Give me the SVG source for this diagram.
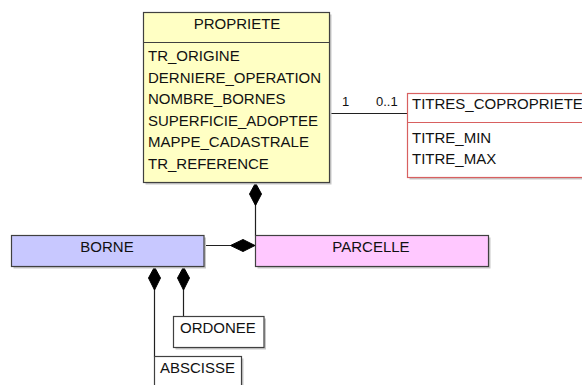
<svg xmlns="http://www.w3.org/2000/svg" width="582" height="385" viewBox="0 0 582 385">
<style>
.sh{fill:#c8c8c8;stroke:none}
.box{stroke:#404040;stroke-width:1.2}
.t{font-family:"Liberation Sans",Arial,sans-serif;font-size:15px;fill:#111}
.c{text-anchor:middle}
.m{font-family:"Liberation Sans",Arial,sans-serif;font-size:13px;fill:#111}
.ln{stroke:#202020;stroke-width:1.2;fill:none}
.dia{fill:#000;stroke:#000;stroke-width:1}
</style>
<rect width="582" height="385" fill="#fff"/>
<g id="connectors">
<line class="ln" x1="330" y1="113.5" x2="407.5" y2="113.5"/>
<text class="m" x="342" y="106">1</text>
<text class="m" x="376" y="106">0..1</text>
<line class="ln" x1="255.5" y1="182.5" x2="255.5" y2="235.5"/>
<polygon class="dia" points="255.5,183 261.5,194 255.5,205.5 249.5,194"/>
<line class="ln" x1="203" y1="245.5" x2="255.5" y2="245.5"/>
<polygon class="dia" points="255,245.5 243,239.5 230.5,245.5 243,251.5"/>
<line class="ln" x1="154.5" y1="266.5" x2="154.5" y2="356.5"/>
<polygon class="dia" points="154.5,267 160.5,278 154.5,290 148.5,278"/>
<line class="ln" x1="183.5" y1="266.5" x2="183.5" y2="316.5"/>
<polygon class="dia" points="183.5,267 189.5,278 183.5,290 177.5,278"/>
</g>
<g id="propriete">
<rect class="sh" x="145.5" y="14.5" width="186" height="170"/>
<rect class="box" x="143.5" y="12.5" width="186" height="170" fill="#ffffc4"/>
<line class="box" x1="143.5" y1="42.5" x2="329.5" y2="42.5"/>
<text class="t c" x="237" y="29">PROPRIETE</text>
<text class="t" x="148" y="61">TR_ORIGINE</text>
<text class="t" x="148" y="82.5">DERNIERE_OPERATION</text>
<text class="t" x="148" y="104">NOMBRE_BORNES</text>
<text class="t" x="148" y="125.5">SUPERFICIE_ADOPTEE</text>
<text class="t" x="148" y="147">MAPPE_CADASTRALE</text>
<text class="t" x="148" y="168.5">TR_REFERENCE</text>
</g>
<g id="titres">
<rect class="sh" x="409.5" y="95.5" width="200" height="84"/>
<rect x="407.5" y="93.5" width="200" height="84" fill="#fff" stroke="#d86060" stroke-width="1.2"/>
<line x1="407.5" y1="122.5" x2="607.5" y2="122.5" stroke="#d86060" stroke-width="1.2"/>
<text class="t" x="412" y="109">TITRES_COPROPRIETE</text>
<text class="t" x="412" y="142.5">TITRE_MIN</text>
<text class="t" x="412" y="163.5">TITRE_MAX</text>
</g>
<g id="borne">
<rect class="sh" x="13.5" y="237.5" width="192.5" height="31"/>
<rect class="box" x="11.5" y="235.5" width="192.5" height="31" fill="#c8c8ff"/>
<text class="t c" x="107" y="252">BORNE</text>
</g>
<g id="parcelle">
<rect class="sh" x="257.5" y="237.5" width="233" height="31"/>
<rect class="box" x="255.5" y="235.5" width="233" height="31" fill="#ffc8ff"/>
<text class="t c" x="371" y="252">PARCELLE</text>
</g>
<g id="ordonee">
<rect class="sh" x="175.5" y="318.5" width="90.5" height="31"/>
<rect class="box" x="173.5" y="316.5" width="90.5" height="31" fill="#fff"/>
<text class="t" x="180" y="333">ORDONEE</text>
</g>
<g id="abscisse">
<rect class="sh" x="156.5" y="358.5" width="87" height="40"/>
<rect class="box" x="154.5" y="356.5" width="87" height="40" fill="#fff"/>
<text class="t" x="160" y="373">ABSCISSE</text>
</g>
</svg>
